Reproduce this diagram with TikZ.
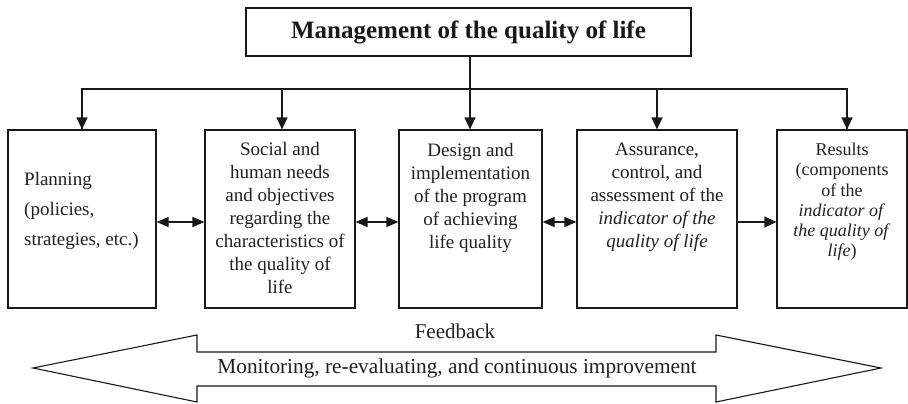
\documentclass[tikz,border=0pt]{standalone}
\usepackage{fontspec}
\setmainfont{Liberation Serif}
\usetikzlibrary{arrows.meta}
\begin{document}
\begin{tikzpicture}[x=1pt,y=-1pt,
  ln/.style={line width=1.2pt, draw=black!90},
  arr/.style={ln, -{Triangle[length=12pt,width=11pt]}},
  darr/.style={ln, {Triangle[length=12pt,width=10pt]}-{Triangle[length=12pt,width=10pt]}},
  boxnode/.style={ln, rectangle, inner sep=0pt},
  btext/.style={anchor=north, inner sep=0pt, align=center, text=black!88, font=\fontsize{19}{23}\selectfont},
]
\useasboundingbox (0,0) rectangle (908,404);
% title
\node[boxnode, minimum width=445pt, minimum height=48pt, font=\fontsize{25}{30}\selectfont\bfseries, text=black!90] (title) at (468.5,32) {Management of the quality of life};
% boxes
\node[boxnode, minimum width=148pt, minimum height=178pt] (b1) at (82,219) {};
\node[boxnode, minimum width=150pt, minimum height=178pt] (b2) at (280,219) {};
\node[boxnode, minimum width=143pt, minimum height=178pt] (b3) at (470.5,219) {};
\node[boxnode, minimum width=160pt, minimum height=178pt] (b4) at (657,219) {};
\node[boxnode, minimum width=130pt, minimum height=178pt] (b5) at (842,219) {};
% texts
\node[anchor=north west, inner sep=0pt, align=left, text=black!88, font=\fontsize{19}{30}\selectfont] (t1) at (24,172) {Planning\\(policies,\\strategies, etc.)};
\node[btext] (t2) at (280,142) {Social and\\human needs\\and objectives\\regarding the\\characteristics of\\the quality of\\life};
\node[btext] (t3) at (470.5,143) {Design and\\implementation\\of the program\\of achieving\\life quality};
\node[btext] (t4) at (657,143) {Assurance,\\control, and\\assessment of the\\\textit{indicator of the}\\\textit{quality of life}};
\node[btext, font=\fontsize{18}{20.2}\selectfont] (t5) at (842,143) {Results\\(components\\of the\\\textit{indicator of}\\\textit{the quality of}\\\textit{life})};
% distribution lines
\coordinate (h0) at (470,89);
\coordinate (hL) at (82,89);
\coordinate (hR) at (847,89);
\coordinate (d2) at (282,89);
\coordinate (d4) at (657,89);
\draw[ln] (title.south -| h0) -- (h0);
\draw[ln] (hL |- b1.north) -- (hL) -- (hR) -- (hR |- b5.north);
\draw[arr] (hL) -- (hL |- b1.north);
\draw[arr] (d2) -- (d2 |- b2.north);
\draw[arr] (h0) -- (h0 |- b3.north);
\draw[arr] (d4) -- (d4 |- b4.north);
\draw[arr] (hR) -- (hR |- b5.north);
% horizontal arrows
\coordinate (m) at (0,222);
\draw[darr] (b1.east |- m) -- (b2.west |- m);
\draw[darr] (b2.east |- m) -- (b3.west |- m);
\draw[darr] (b3.east |- m) -- (b4.west |- m);
\draw[arr] (b4.east |- m) -- (b5.west |- m);
% feedback
\node[inner sep=0pt, text=black!88, font=\fontsize{21}{25}\selectfont] (fb) at (455,331) {Feedback};
\draw[ln, line width=1.1pt] (33,368) -- (197,335) -- (197,352) -- (716,352) -- (716,335) -- (881,368) -- (716,402) -- (716,386) -- (197,386) -- (197,402) -- cycle;
\node[inner sep=0pt, text=black!88, font=\fontsize{21.3}{25}\selectfont] (mon) at (457,368) {Monitoring, re-evaluating, and continuous improvement};
\end{tikzpicture}
\end{document}
